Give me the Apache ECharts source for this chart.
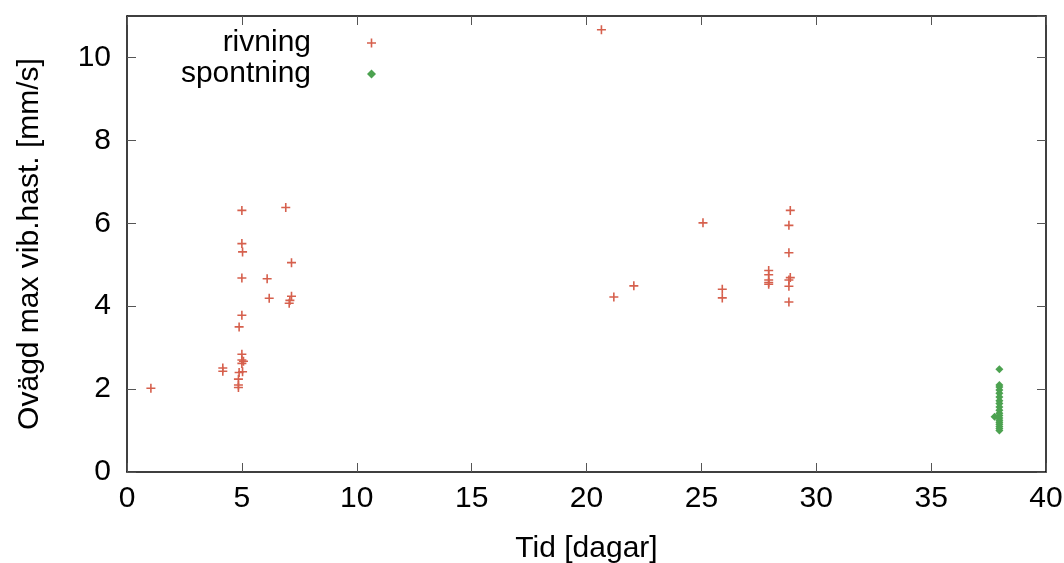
<!DOCTYPE html>
<html>
<head>
<meta charset="utf-8">
<script src="https://cdn.jsdelivr.net/npm/echarts@6/dist/echarts.min.js"></script>
<style>html,body{margin:0;padding:0;background:#fff}#c{width:1064px;height:563px}</style>
</head>
<body>
<div id="c"></div>
<script>
const rivningX = [1.04, 5.0, 6.91, 5.0, 5.03, 7.16, 5.0, 6.1, 6.19, 7.16, 7.09, 7.06, 5.0, 4.88, 5.0, 5.0, 5.07, 5.0, 4.17, 4.17, 4.88, 5.03, 4.85, 4.85, 4.85,
  20.65, 21.19, 22.06, 25.07, 25.91, 25.91, 27.93, 27.93, 27.93, 27.93, 27.93, 28.87, 28.81, 28.81, 28.87, 28.81, 28.81, 28.81];
const rivningY = [2.02, 6.31, 6.38, 5.51, 5.31, 5.05, 4.68, 4.66, 4.19, 4.24, 4.14, 4.07, 3.78, 3.50, 2.84, 2.70, 2.67, 2.62, 2.51, 2.43, 2.40, 2.42, 2.24, 2.10, 2.04,
  10.67, 4.22, 4.49, 6.01, 4.41, 4.20, 4.86, 4.76, 4.63, 4.57, 4.53, 6.31, 5.95, 5.29, 4.69, 4.63, 4.48, 4.10];
const spontningX = [37.97, 37.97, 37.97, 37.97, 37.97, 37.97, 37.97, 37.97, 37.97, 37.97, 37.97, 37.97, 37.76, 37.97, 37.97, 37.97, 37.97, 37.97, 37.97, 37.97];
const spontningY = [2.48, 2.10, 2.05, 1.98, 1.90, 1.81, 1.72, 1.65, 1.57, 1.49, 1.42, 1.36, 1.33, 1.30, 1.25, 1.20, 1.15, 1.10, 1.05, 1.00];
const xTicks = [0, 5, 10, 15, 20, 25, 30, 35, 40];
const yTicks = [0, 2, 4, 6, 8, 10];
const seriesNames = ['rivning', 'spontning'];

const FONT = "'Liberation Sans', Arial, Helvetica, sans-serif";
const RED = '#d6604d';
const GREEN = '#4ca250';
const PLUS = 'path://M3.7,0h1.6v9h-1.6z M0,3.7h9v1.6h-9z';

const chart = echarts.init(document.getElementById('c'), null, {renderer: 'canvas'});
const axisLine = {show: true, onZero: false, lineStyle: {color: '#000', width: 1.5}};
const tickIn = {show: true, inside: true, length: 9, lineStyle: {color: '#555', width: 1}};
chart.setOption({
  animation: false,
  backgroundColor: '#fff',
  textStyle: {fontFamily: FONT},
  grid: {left: 127, right: 18, top: 16, bottom: 91, containLabel: false, outerBoundsMode: 'none'},
  legend: {
    orient: 'vertical', align: 'right', right: 688, top: 28, padding: 0,
    itemWidth: 9, itemHeight: 9, itemGap: 1,
    textStyle: {fontFamily: FONT, fontSize: 30, lineHeight: 30, color: '#000', padding: [0, 51, 0, 0]},
    data: [{name: seriesNames[0], icon: PLUS}, {name: seriesNames[1], icon: 'diamond'}]
  },
  xAxis: [{
    type: 'value', min: xTicks[0], max: xTicks[xTicks.length - 1], interval: 5,
    name: 'Tid [dagar]', nameLocation: 'middle', nameGap: 62,
    nameTextStyle: {fontFamily: FONT, fontSize: 30, color: '#000'},
    axisLine: axisLine, axisTick: tickIn,
    axisLabel: {fontFamily: FONT, fontSize: 30, color: '#000', margin: 12},
    splitLine: {show: false}
  }, {
    type: 'value', position: 'top', min: 0, max: 40, interval: 5,
    axisLine: axisLine, axisTick: tickIn, axisLabel: {show: false}, splitLine: {show: false}
  }],
  yAxis: [{
    type: 'value', min: yTicks[0], max: 11, interval: 2,
    name: 'Ovägd max vib.hast. [mm/s]', nameLocation: 'middle', nameGap: 82,
    nameTextStyle: {fontFamily: FONT, fontSize: 30, color: '#000'},
    axisLine: axisLine, axisTick: tickIn,
    axisLabel: {fontFamily: FONT, fontSize: 30, color: '#000', margin: 16, showMaxLabel: false},
    splitLine: {show: false}
  }, {
    type: 'value', position: 'right', min: 0, max: 11, interval: 2,
    axisLine: axisLine, axisTick: tickIn, axisLabel: {show: false}, splitLine: {show: false}
  }],
  series: [{
    name: seriesNames[0], type: 'scatter', symbol: PLUS, symbolSize: 9,
    itemStyle: {color: RED, opacity: 1},
    data: rivningX.map((x, i) => [x, rivningY[i]])
  }, {
    name: seriesNames[1], type: 'scatter', symbol: 'diamond', symbolSize: 8,
    itemStyle: {color: GREEN, opacity: 1},
    data: spontningX.map((x, i) => [x, spontningY[i]])
  }]
});
</script>
</body>
</html>
